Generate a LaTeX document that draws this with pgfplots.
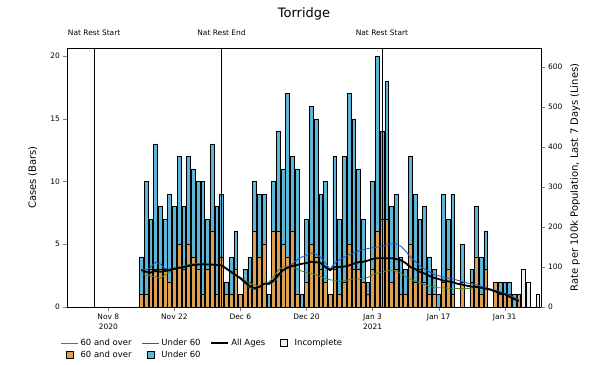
\documentclass[border=0pt]{standalone}
\usepackage{fontspec}
\setmainfont{DejaVu Sans}
\usepackage{pgfplots}
\usepackage{pgfplotstable}
\pgfplotsset{compat=1.18}
\definecolor{oldc}{RGB}{220,160,78}
\definecolor{youngc}{RGB}{92,182,216}
\definecolor{oldline}{RGB}{80,130,60}
\definecolor{youngline}{RGB}{30,90,200}
\definecolor{incc}{RGB}{238,238,238}

\pgfplotstableread{
day over under inc
7 1 3 0
8 1 9 0
9 3 4 0
10 3 10 0
11 3 5 0
12 3 4 0
13 2 7 0
14 3 5 0
15 5 7 0
16 3 5 0
17 5 7 0
18 4 7 0
19 3 7 0
20 1 9 0
21 3 4 0
22 6 7 0
23 1 7 0
24 4 5 0
25 1 1 0
26 1 3 0
27 3 3 0
28 1 0 0
29 2 1 0
30 2 2 0
31 6 4 0
32 4 5 0
33 5 4 0
34 0 1 0
35 6 4 0
36 6 8 0
37 5 6 0
38 4 13 0
39 6 6 0
40 1 10 0
41 0 1 0
42 2 5 0
43 5 11 0
44 4 11 0
45 3 6 0
46 2 8 0
47 1 0 0
48 3 9 0
49 1 6 0
50 2 10 0
51 5 12 0
52 3 12 0
53 3 8 0
54 2 5 0
55 1 1 0
56 3 7 0
57 6 14 0
58 7 7 0
59 7 11 0
60 2 6 0
61 3 6 0
62 1 3 0
63 1 2 0
64 5 7 0
65 2 7 0
66 3 4 0
67 2 6 0
68 1 3 0
69 1 2 0
70 0 1 0
71 2 7 0
72 3 4 0
73 1 8 0
74 0 0 0
75 2 3 0
76 0 0 0
77 2 1 0
78 4 4 0
79 1 3 0
80 3 3 0
81 0 0 0
82 2 0 0
83 1 1 0
84 1 1 0
85 1 1 0
86 0 1 0
87 1 0 0
88 0 0 3
89 0 0 2
90 0 0 0
91 0 0 1
}\bars

\pgfplotstableread{
day all under over
7 92 95 85
8 88 92 80
9 86 100 78
10 90 112 75
11 88 108 72
12 90 96 80
13 92 95 88
14 96 96 95
15 98 97 100
16 100 100 103
17 103 102 106
18 105 104 108
19 106 105 108
20 107 107 108
21 106 107 106
22 106 107 106
23 105 106 104
24 104 104 104
25 96 96 98
26 88 90 85
27 80 80 78
28 72 70 74
29 62 58 66
30 52 48 60
31 47 44 55
32 50 50 52
33 58 58 58
34 58 56 62
35 66 62 75
36 80 75 92
37 92 90 100
38 98 100 102
39 103 108 100
40 105 118 95
41 108 125 90
42 110 130 86
43 113 135 84
44 112 132 80
45 110 125 76
46 100 110 72
47 92 95 68
48 100 110 66
49 100 118 64
50 101 125 66
51 104 130 68
52 108 135 70
53 112 140 70
54 113 143 72
55 116 146 74
56 120 148 80
57 122 150 85
58 122 152 88
59 122 155 90
60 122 158 92
61 120 158 90
62 117 152 85
63 110 140 75
64 100 125 70
65 95 115 65
66 88 103 60
67 84 95 56
68 78 88 52
69 73 82 50
70 70 78 48
71 66 75 48
72 64 72 47
73 62 70 47
74 58 67 46
75 56 63 46
76 53 60 46
77 51 58 47
78 50 55 48
79 48 52 48
80 46 48 47
81 43 45 45
82 39 42 40
83 35 38 35
84 32 34 32
85 26 30 28
86 20 24 22
87 15 18 16
}\rates

\begin{document}
\begin{tikzpicture}
\path[use as bounding box] (-67bp,-58bp) rectangle (527bp,307bp);
\begin{axis}[
  at={(0,0)}, anchor=south west, scale only axis,
  width=474bp, height=259bp,
  xmin=-8.75, xmax=91.7, ymin=0, ymax=20.64,
  ybar stacked, bar width=0.8,
  xtick={0,14,28,42,56,70,84},
  xticklabels={Nov 8\\2020, Nov 22, Dec 6, Dec 20, Jan 3\\2021, Jan 17, Jan 31},
  xticklabel style={align=center, font=\fontsize{7.5}{10}\selectfont},
  yticklabel style={font=\fontsize{7.5}{9}\selectfont},
  ytick={0,5,10,15,20},
  xtick pos=bottom, ytick pos=left, tick align=outside,
  major tick length=3.5bp,
  /pgf/number format/assume math mode=true,
  ylabel={Cases (Bars)},
  every axis y label/.style={at={(axis description cs:-0.072,0.5)}, anchor=center, rotate=90, font=\fontsize{10}{12}\selectfont},
  axis line style={black, line width=0.6pt},
]
\addplot[fill=oldc, draw=black, line width=0.5pt] table[x=day, y=over] {\bars};
\addplot[fill=youngc, draw=black, line width=0.5pt] table[x=day, y=under] {\bars};
\addplot[fill=incc, draw=black, line width=0.5pt] table[x=day, y=inc] {\bars};
\end{axis}
\begin{axis}[
  at={(0,0)}, anchor=south west, scale only axis,
  width=474bp, height=259bp,
  xmin=-8.75, xmax=91.7, ymin=0, ymax=647.5,
  axis y line*=right, axis x line=none,
  ytick={0,100,200,300,400,500,600},
  yticklabel style={font=\fontsize{7.5}{9}\selectfont},
  tick align=outside, major tick length=3.5bp,
  /pgf/number format/assume math mode=true,
  ylabel={Rate per 100k Population, Last 7 Days (Lines)},
  every axis y label/.style={at={(axis description cs:1.072,0.5)}, anchor=center, rotate=90, font=\fontsize{10}{12}\selectfont},
  axis line style={black, line width=0.6pt},
  clip=false,
  legend columns=4,
  legend style={at={(-0.02,-0.108)}, anchor=north west, draw=none, fill=none,
    font=\fontsize{8.5}{10}\selectfont,
    /tikz/every odd column/.append style={column sep=0pt},
    /tikz/every even column/.append style={column sep=8pt}},
  legend cell align=left,
]
\addplot[oldline, line width=0.9pt, forget plot] table[x=day, y=over] {\rates};
\addplot[youngline, line width=0.9pt, forget plot] table[x=day, y=under] {\rates};
\addplot[black, line width=1.8pt, forget plot] table[x=day, y=all] {\rates};
\addplot[black, line width=0.7pt, forget plot] coordinates {(-3,0) (-3,647.5)};
\addplot[black, line width=0.7pt, forget plot] coordinates {(24,0) (24,647.5)};
\addplot[black, line width=0.7pt, forget plot] coordinates {(58,0) (58,647.5)};
\node[font=\fontsize{7.5}{9}\selectfont] at (axis cs:-3,685) {Nat Rest Start};
\node[font=\fontsize{7.5}{9}\selectfont] at (axis cs:24,685) {Nat Rest End};
\node[font=\fontsize{7.5}{9}\selectfont] at (axis cs:58,685) {Nat Rest Start};
\node[font=\fontsize{13}{15}\selectfont] at (axis description cs:0.5,1.13) {Torridge};
\addlegendimage{line legend, oldline, line width=0.9pt}
\addlegendentry{60 and over}
\addlegendimage{line legend, youngline, line width=0.9pt}
\addlegendentry{Under 60}
\addlegendimage{line legend, black, line width=1.8pt}
\addlegendentry{All Ages}
\addlegendimage{legend image code/.code={\path (0cm,0cm) (0.6cm,0cm); \draw[fill=incc, draw=black, line width=0.6pt] (0.18cm,-0.11cm) rectangle (0.42cm,0.13cm);}}
\addlegendentry{Incomplete}
\addlegendimage{legend image code/.code={\path (0cm,0cm) (0.6cm,0cm); \draw[fill=oldc, draw=black, line width=0.6pt] (0.18cm,-0.11cm) rectangle (0.42cm,0.13cm);}}
\addlegendentry{60 and over}
\addlegendimage{legend image code/.code={\path (0cm,0cm) (0.6cm,0cm); \draw[fill=youngc, draw=black, line width=0.6pt] (0.18cm,-0.11cm) rectangle (0.42cm,0.13cm);}}
\addlegendentry{Under 60}
\end{axis}
\end{tikzpicture}
\end{document}
